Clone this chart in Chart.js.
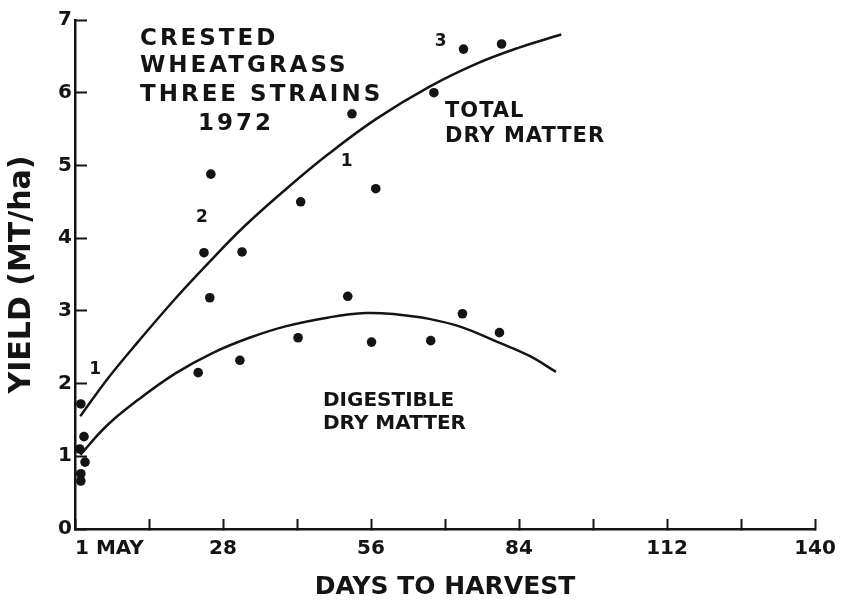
<!DOCTYPE html>
<html>
<head>
<meta charset="utf-8">
<title>Crested wheatgrass, three strains, 1972</title>
<script src="https://cdn.jsdelivr.net/npm/chart.js@4.4.1/dist/chart.umd.min.js"></script>
<style>
  body { margin: 0; background: #fff; }
  #wrap { width: 843px; height: 605px; }
</style>
</head>
<body>
<div id="wrap"><canvas id="myChart" width="843" height="605"></canvas></div>
<script>
// measured points, days after 1 May vs yield (MT/ha)
const totalDays  = [1.1, 1.7, 0.9, 25.7, 24.4, 31.6, 42.7, 52.4, 56.9, 67.9, 73.5, 80.7];
const totalYield = [1.72, 1.27, 1.10, 4.88, 3.80, 3.81, 4.50, 5.71, 4.68, 6.00, 6.60, 6.67];
const digDays    = [1.9, 1.1, 1.1, 25.5, 23.3, 31.2, 42.2, 51.6, 56.1, 67.3, 73.3, 80.3];
const digYield   = [0.92, 0.76, 0.66, 3.18, 2.15, 2.32, 2.63, 3.20, 2.57, 2.59, 2.96, 2.70];

// fitted curves
const totalCurveDays  = [1, 6, 12, 19, 25, 32, 40, 48, 57, 67, 76, 84, 92];
const totalCurveYield = [1.55, 2.05, 2.58, 3.17, 3.64, 4.16, 4.68, 5.16, 5.64, 6.08, 6.40, 6.62, 6.80];
const digCurveDays  = [1, 6, 12, 19, 26, 33, 40, 48, 55, 61, 67, 73, 80, 86, 91];
const digCurveYield = [1.02, 1.42, 1.78, 2.14, 2.42, 2.63, 2.79, 2.91, 2.97, 2.95, 2.89, 2.78, 2.57, 2.38, 2.16];

// strain numbers written next to the dots
const strainLabels = ['1', '2', '1', '3'];
const strainDays   = [3.8, 24.0, 51.4, 69.2];
const strainYield  = [2.19, 4.28, 5.05, 6.70];

// axes
const xTickValues = [0, 14, 28, 42, 56, 70, 84, 98, 112, 126, 140];
const xTickLabels = ['1 MAY', '', '28', '', '56', '', '84', '', '112', '', '140'];
const yTickLabels = ['0', '1', '2', '3', '4', '5', '6', '7'];

const titleLines = ['CRESTED', 'WHEATGRASS', 'THREE STRAINS', '1972'];
const totalNote = ['TOTAL', 'DRY MATTER'];
const digNote = ['DIGESTIBLE', 'DRY MATTER'];

const INK = '#141414';
const FONT = '"DejaVu Sans", sans-serif';

function toPoints(xs, ys) {
  return xs.map(function (x, i) { return { x: x, y: ys[i] }; });
}

// texts drawn on top of the plot
const textPlugin = {
  id: 'textos',
  afterDraw(chart) {
    const c = chart.ctx;
    const xs = chart.scales.x;
    const ys = chart.scales.y;
    c.save();
    c.fillStyle = INK;
    c.textBaseline = 'middle';

    // first x label starts at the tick instead of centring on it
    c.font = 'bold 20px ' + FONT;
    c.textAlign = 'left';
    c.fillText(xTickLabels[0], xs.getPixelForValue(xTickValues[0]), 549);

    c.font = 'bold 17px ' + FONT;
    c.textAlign = 'center';
    strainLabels.forEach(function (t, i) {
      c.fillText(t, xs.getPixelForValue(strainDays[i]), ys.getPixelForValue(strainYield[i]));
    });

    c.textAlign = 'left';
    c.font = 'bold 23px ' + FONT;
    c.letterSpacing = '3px';
    c.fillText(titleLines[0], 140, 39);
    c.fillText(titleLines[1], 140, 66);
    c.fillText(titleLines[2], 140, 95);
    c.fillText(titleLines[3], 198, 124);

    c.font = 'bold 21px ' + FONT;
    c.letterSpacing = '1px';
    c.fillText(totalNote[0], 445, 112);
    c.fillText(totalNote[1], 445, 137);

    c.font = 'bold 20px ' + FONT;
    c.letterSpacing = '0px';
    c.fillText(digNote[0], 323, 401);
    c.fillText(digNote[1], 323, 424);
    c.restore();
  }
};

const ctx = document.getElementById('myChart');

const myChart = new Chart(ctx, {
  type: 'scatter',
  data: {
    datasets: [
      { label: 'Total curve', data: toPoints(totalCurveDays, totalCurveYield), showLine: true,
        borderColor: INK, borderWidth: 2.5, pointRadius: 0, tension: 0.4, clip: false },
      { label: 'Digestible curve', data: toPoints(digCurveDays, digCurveYield), showLine: true,
        borderColor: INK, borderWidth: 2.5, pointRadius: 0, tension: 0.4, clip: false },
      { label: 'Total dry matter', data: toPoints(totalDays, totalYield),
        backgroundColor: INK, borderColor: INK, pointRadius: 4.8, borderWidth: 0, clip: false },
      { label: 'Digestible dry matter', data: toPoints(digDays, digYield),
        backgroundColor: INK, borderColor: INK, pointRadius: 4.8, borderWidth: 0, clip: false }
    ]
  },
  options: {
    responsive: false,
    animation: false,
    events: [],
    layout: { padding: { top: 20, right: 28, left: 0, bottom: 0 } },
    plugins: {
      legend: { display: false },
      tooltip: { enabled: false }
    },
    scales: {
      x: {
        type: 'linear',
        min: 0,
        max: 140,
        afterFit: function (scale) {
          scale.height = 76;
          scale.paddingLeft = 0;
          scale.paddingRight = 0;
        },
        afterBuildTicks: function (scale) {
          scale.ticks = xTickValues.map(function (v) { return { value: v }; });
        },
        ticks: {
          autoSkip: false,
          maxRotation: 0,
          padding: 18,
          color: INK,
          font: { family: FONT, size: 20, weight: 'bold' },
          callback: function (value, i) { return i === 0 ? '' : xTickLabels[i]; }
        },
        grid: { drawOnChartArea: false, tickLength: -10, tickWidth: 2, tickColor: INK },
        border: { display: true, color: INK, width: 2.5 },
        title: {
          display: true,
          text: 'DAYS TO HARVEST',
          color: INK,
          font: { family: FONT, size: 25, weight: 'bold' },
          padding: { top: 0, bottom: 3 }
        }
      },
      y: {
        type: 'linear',
        min: 0,
        max: 7,
        afterFit: function (scale) {
          scale.width = 75;
          scale.paddingTop = 0;
          scale.paddingBottom = 0;
        },
        ticks: {
          stepSize: 1,
          padding: 15,
          color: INK,
          font: { family: FONT, size: 20, weight: 'bold' },
          callback: function (value) { return yTickLabels[value]; }
        },
        grid: { drawOnChartArea: false, tickLength: -12, tickWidth: 2, tickColor: INK },
        border: { display: true, color: INK, width: 2.5 },
        title: {
          display: true,
          text: 'YIELD (MT/ha)',
          color: INK,
          font: { family: FONT, size: 30, weight: 'bold' },
          padding: { top: 4, bottom: 0 }
        }
      }
    }
  },
  plugins: [textPlugin]
});
</script>
</body>
</html>
